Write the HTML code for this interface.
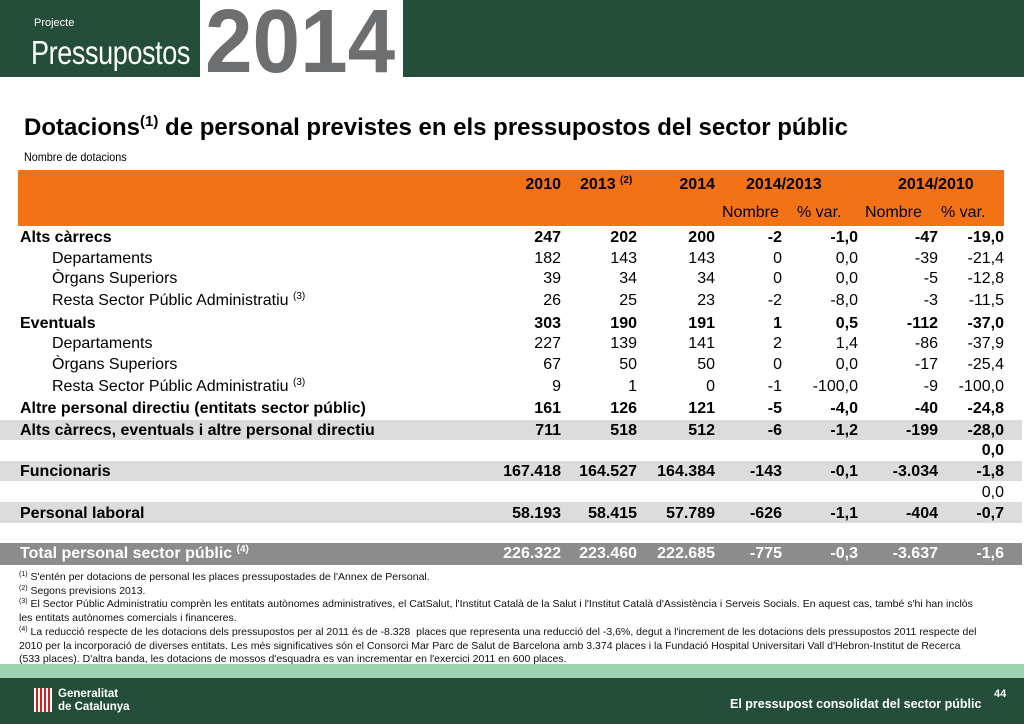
<!DOCTYPE html>
<html><head><meta charset="utf-8"><style>
*{margin:0;padding:0;box-sizing:border-box}
body{width:1024px;height:724px;position:relative;overflow:hidden;background:#fff;font-family:"Liberation Sans",sans-serif;color:#000}
.abs{position:absolute}
.row{position:absolute;left:0;width:1024px;height:21px;font-size:16px;line-height:21px}
.row span{position:absolute;white-space:nowrap}
.n{text-align:right}
.b{font-weight:bold}
sup{font-size:10px;vertical-align:6px;line-height:0}
.fn{position:absolute;left:19px;font-size:10.5px;line-height:13.7px;color:#111;width:965px}
</style></head><body>
<div class="abs" style="left:0;top:0;width:1024px;height:77px;background:#244d3a"></div>
<div class="abs" style="left:200px;top:0;width:203px;height:77px;background:#fff"></div>
<div class="abs" style="left:34px;top:17px;font-size:11px;color:#fff">Projecte</div>
<div class="abs" style="left:31px;top:34px;font-size:33px;color:#fff;transform:scaleX(0.82);transform-origin:left;letter-spacing:-0.5px">Pressupostos</div>
<div class="abs" style="left:205px;top:-9px;font-size:90px;font-weight:bold;color:#6d6e70;transform:scaleX(0.95);transform-origin:left">2014</div>

<div class="abs" style="left:24px;top:114px;font-size:24px;font-weight:bold">Dotacions<sup style="font-size:15px;vertical-align:9px">(1)</sup> de personal previstes en els pressupostos del sector públic</div>
<div class="abs" style="left:24px;top:150px;font-size:12px;transform:scaleX(0.9);transform-origin:left">Nombre de dotacions</div>

<div class="abs" style="left:18px;top:170px;width:986px;height:56px;background:#f47216"></div>
<div class="row b" style="top:174px">
<span class="n" style="right:463px">2010</span>
<span style="left:580px">2013 <sup>(2)</sup></span>
<span class="n" style="right:309px">2014</span>
<span style="left:746px">2014/2013</span>
<span style="left:898px">2014/2010</span>
</div>
<div class="row" style="top:202px">
<span style="left:722px">Nombre</span><span style="left:797px">% var.</span>
<span style="left:865px">Nombre</span><span style="left:941px">% var.</span>
</div>

<div class="abs" style="left:0;top:420px;width:1022px;height:20px;background:#dcdcdc"></div>
<div class="abs" style="left:0;top:461px;width:1022px;height:20px;background:#dcdcdc"></div>
<div class="abs" style="left:0;top:502px;width:1022px;height:21px;background:#dcdcdc"></div>
<div class="abs" style="left:0;top:543px;width:1022px;height:22px;background:#8c8c8c"></div>

<div id="tbl"></div>

<div class="fn" style="top:571px">
<div><sup style="font-size:7px;vertical-align:4px">(1)</sup> S'entén per dotacions de personal les places pressupostades de l'Annex de Personal.</div>
<div><sup style="font-size:7px;vertical-align:4px">(2)</sup> Segons previsions 2013.</div>
<div><sup style="font-size:7px;vertical-align:4px">(3)</sup> El Sector Públic Administratiu comprèn les entitats autònomes administratives, el CatSalut, l'Institut Català de la Salut i l'Institut Català d'Assistència i Serveis Socials. En aquest cas, també s'hi han inclòs les entitats autònomes comercials i financeres.</div>
<div><sup style="font-size:7px;vertical-align:4px">(4)</sup> La reducció respecte de les dotacions dels pressupostos per al 2011 és de -8.328 &nbsp;places que representa una reducció del -3,6%, degut a l'increment de les dotacions dels pressupostos 2011 respecte del 2010 per la incorporació de diverses entitats. Les més significatives són el Consorci Mar Parc de Salut de Barcelona amb 3.374 places i la Fundació Hospital Universitari Vall d'Hebron-Institut de Recerca (533 places). D'altra banda, les dotacions de mossos d'esquadra es van incrementar en l'exercici 2011 en 600 places.</div>
</div>

<div class="abs" style="left:0;top:664px;width:1024px;height:14px;background:#9ed3b0"></div>
<div class="abs" style="left:0;top:678px;width:1024px;height:46px;background:#244d3a"></div>
<div class="abs" style="left:34px;top:688px;width:18px;height:24px;background:repeating-linear-gradient(90deg,#fff 0 2px,#c22 2px 4px)"></div>
<div class="abs" style="left:58px;top:688px;font-size:11.5px;line-height:13px;font-weight:bold;color:#fff">Generalitat<br>de Catalunya</div>
<div class="abs" style="left:730px;top:697px;font-size:12.5px;font-weight:bold;color:#fff">El pressupost consolidat del sector públic</div>
<div class="abs" style="left:994px;top:688px;font-size:11px;font-weight:bold;color:#fff">44</div>

<script>
const labels=["Alts càrrecs","Departaments","Òrgans Superiors","Resta Sector Públic Administratiu <sup>(3)</sup>","Eventuals","Departaments","Òrgans Superiors","Resta Sector Públic Administratiu <sup>(3)</sup>","Altre personal directiu (entitats sector públic)","Alts càrrecs, eventuals i altre personal directiu","","Funcionaris","","Personal laboral","Total personal sector públic <sup>(4)</sup>"];
const v2010=["247","182","39","26","303","227","67","9","161","711","","167.418","","58.193","226.322"];
const v2013=["202","143","34","25","190","139","50","1","126","518","","164.527","","58.415","223.460"];
const v2014=["200","143","34","23","191","141","50","0","121","512","","164.384","","57.789","222.685"];
const n1413=["-2","0","0","-2","1","2","0","-1","-5","-6","","-143","","-626","-775"];
const p1413=["-1,0","0,0","0,0","-8,0","0,5","1,4","0,0","-100,0","-4,0","-1,2","","-0,1","","-1,1","-0,3"];
const n1410=["-47","-39","-5","-3","-112","-86","-17","-9","-40","-199","","-3.034","","-404","-3.637"];
const p1410=["-19,0","-21,4","-12,8","-11,5","-37,0","-37,9","-25,4","-100,0","-24,8","-28,0","0,0","-1,8","0,0","-0,7","-1,6"];
const rowTop=[227,248,268,290,313,333,354,376,398,420,440,461,482,503,543];
const bold=[1,0,0,0,1,0,0,0,1,1,1,1,0,1,1];
const indent=[0,1,1,1,0,1,1,1,0,0,0,0,0,0,0];
const colRight=[561,637,715,782,858,938,1004];
const tbl=document.getElementById('tbl');
labels.forEach((lab,i)=>{
  const r=document.createElement('div');
  r.className='row'+(bold[i]?' b':'');
  
  
  r.style.top=rowTop[i]+'px';
  if(i===14){r.style.color='#fff';r.style.height='22px';r.style.lineHeight='22px';}
  let h='<span style="left:'+(indent[i]?52:20)+'px">'+lab+'</span>';
  const cols=[v2010,v2013,v2014,n1413,p1413,n1410,p1410];
  cols.forEach((c,j)=>{ if(c[i]) h+='<span class="n" style="right:'+(1024-colRight[j])+'px">'+c[i]+'</span>'; });
  r.innerHTML=h;
  tbl.appendChild(r);
});
</script>
</body></html>
